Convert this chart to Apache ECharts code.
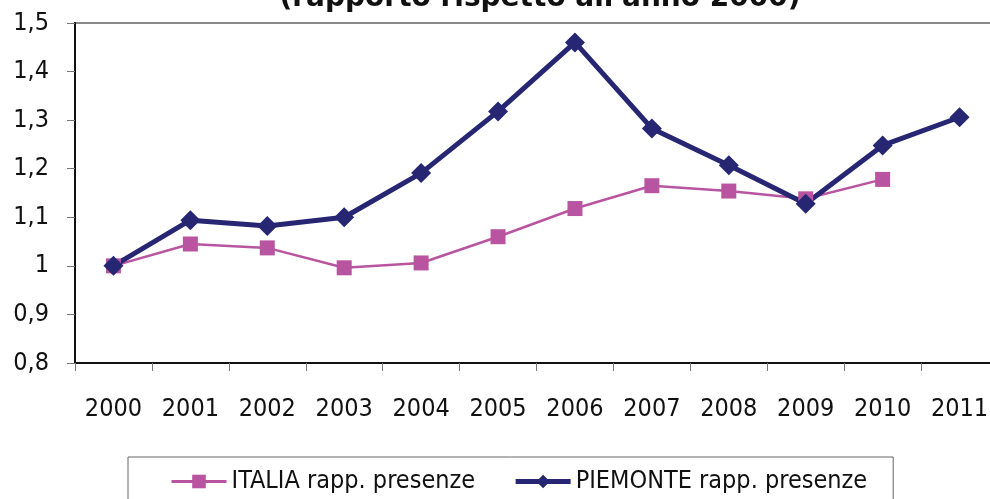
<!DOCTYPE html>
<html>
<head>
<meta charset="utf-8">
<script src="https://cdn.jsdelivr.net/npm/echarts@6/dist/echarts.min.js"></script>
<style>
html,body{margin:0;padding:0;background:#fff;}
#chart{width:990px;height:499px;}
</style>
</head>
<body>
<div id="chart"></div>
<script>
const years = ['2000','2001','2002','2003','2004','2005','2006','2007','2008','2009','2010','2011'];
const italia = [1.000, 1.045, 1.037, 0.996, 1.006, 1.060, 1.118, 1.165, 1.154, 1.138, 1.178, null];
const piemonte = [1.000, 1.094, 1.082, 1.100, 1.191, 1.318, 1.460, 1.283, 1.207, 1.128, 1.248, 1.306];
const titleText = "(rapporto rispetto all'anno 2000)";
const nameItalia = 'ITALIA rapp. presenze';
const namePiemonte = 'PIEMONTE rapp. presenze';

const FONT = 'DejaVu Sans Condensed';
const chart = echarts.init(document.getElementById('chart'), null, {renderer:'canvas'});
chart.setOption({
  backgroundColor: '#ffffff',
  animation: false,
  title: {
    text: titleText,
    left: 535, textAlign: 'center',
    top: -20,
    textStyle: {fontFamily: 'DejaVu Sans', fontWeight: 'bold', fontSize: 28, color: '#111'}
  },
  grid: {
    left: 75, top: 23, height: 340, width: 923,
    outerBoundsMode: 'none',
    containLabel: false,
    show: true, borderColor: '#8a8a8a', borderWidth: 2, backgroundColor: '#fff'
  },
  legend: {
    left: 128, top: 457,
    padding: [12, 26, 30, 42],
    itemGap: 38,
    itemWidth: 55, itemHeight: 17,
    borderColor: '#666', borderWidth: 1,
    textStyle: {fontFamily: FONT, fontSize: 25, color: '#111'},
    data: [
      {name: nameItalia, lineStyle: {width: 3}},
      {name: namePiemonte, lineStyle: {width: 5}}
    ]
  },
  xAxis: {
    type: 'category',
    data: years,
    boundaryGap: true,
    axisLine: {lineStyle: {color: '#111', width: 2}},
    axisTick: {show: true, length: 8, lineStyle: {color: '#777', width: 1}, alignWithLabel: false},
    axisLabel: {fontFamily: FONT, fontSize: 25, color: '#111', margin: 34},
    splitLine: {show: false}
  },
  yAxis: {
    type: 'value',
    min: 0.8, max: 1.5, interval: 0.1,
    axisLine: {show: true, lineStyle: {color: '#111', width: 2}},
    axisTick: {show: true, length: 8, lineStyle: {color: '#777', width: 1}},
    axisLabel: {
      fontFamily: FONT, fontSize: 25, color: '#111', margin: 26,
      formatter: v => (Math.round(v*10)/10).toString().replace('.', ',')
    },
    splitLine: {show: false}
  },
  series: [
    {
      name: nameItalia, type: 'line', data: italia,
      symbol: 'rect', symbolSize: 15,
      lineStyle: {color: '#b955a0', width: 2.5},
      itemStyle: {color: '#b955a0'},
      connectNulls: false
    },
    {
      name: namePiemonte, type: 'line', data: piemonte,
      symbol: 'diamond', symbolSize: 20,
      lineStyle: {color: '#262673', width: 5},
      itemStyle: {color: '#262673'}
    }
  ]
});
</script>
</body>
</html>
